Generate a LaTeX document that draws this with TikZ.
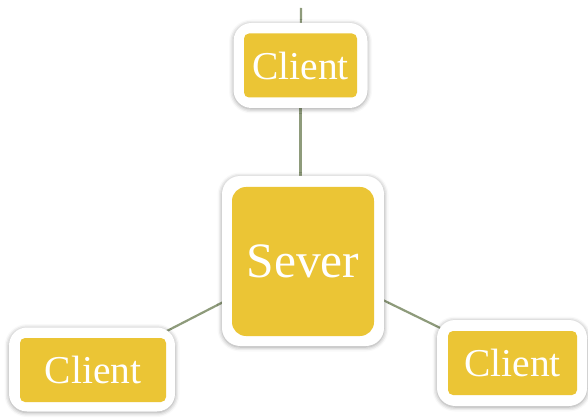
\documentclass[tikz,border=0pt]{standalone}
\usepackage{fontspec}
\setmainfont{Liberation Serif}
\usetikzlibrary{shadows.blur,backgrounds}
\definecolor{goldfill}{HTML}{EBC535}
\definecolor{linkgreen}{HTML}{8E9B7B}
\tikzset{
  frame/.style={fill=white, draw=none, rounded corners=18pt, inner sep=0pt,
    blur shadow={shadow xshift=0pt, shadow yshift=-1pt, shadow blur radius=4.5pt, shadow opacity=40}},
  tile/.style={fill=goldfill, draw=none, inner sep=0pt, text=white},
  clienttile/.style={tile, rounded corners=5pt, minimum height=64pt, font=\fontsize{39.5}{42}\selectfont},
  servertile/.style={tile, rounded corners=14pt, font=\fontsize{49.5}{52}\selectfont},
  link/.style={draw=linkgreen, line width=2.2pt}
}
\begin{document}
\begin{tikzpicture}[x=1pt, y=-1pt]
\useasboundingbox (0,0) rectangle (588,419);

% white frames
\node[frame, minimum width=162pt, minimum height=170pt] (srvframe) at (303,261) {};
\node[frame, minimum width=134pt, minimum height=85pt] (topframe) at (300.5,65.5) {};
\node[frame, minimum width=166pt, minimum height=84pt] (leftframe) at (92,369.5) {};
\node[frame, minimum width=150pt, minimum height=86pt] (rightframe) at (512,363) {};

% golden tiles with labels
\node[servertile, minimum width=142pt, minimum height=149pt] (server) at (303,261.5) {Sever};
\node[clienttile, minimum width=113pt] (ctop) at (300.5,65.5) {Client};
\node[clienttile, minimum width=146pt] (cleft) at (93,370) {Client};
\node[clienttile, minimum width=129pt] (cright) at (512.5,363) {Client};

\coordinate (feed) at (301,8);

% connectors behind the frames
\begin{scope}[on background layer]
  \draw[link] (topframe.center) -- (topframe.center |- srvframe.center);
  \draw[link] (srvframe.center) -- (leftframe.center);
  \draw[link] (srvframe.center) -- (rightframe.center);
  \draw[link] (topframe.center) -- (feed);
\end{scope}
\end{tikzpicture}
\end{document}
